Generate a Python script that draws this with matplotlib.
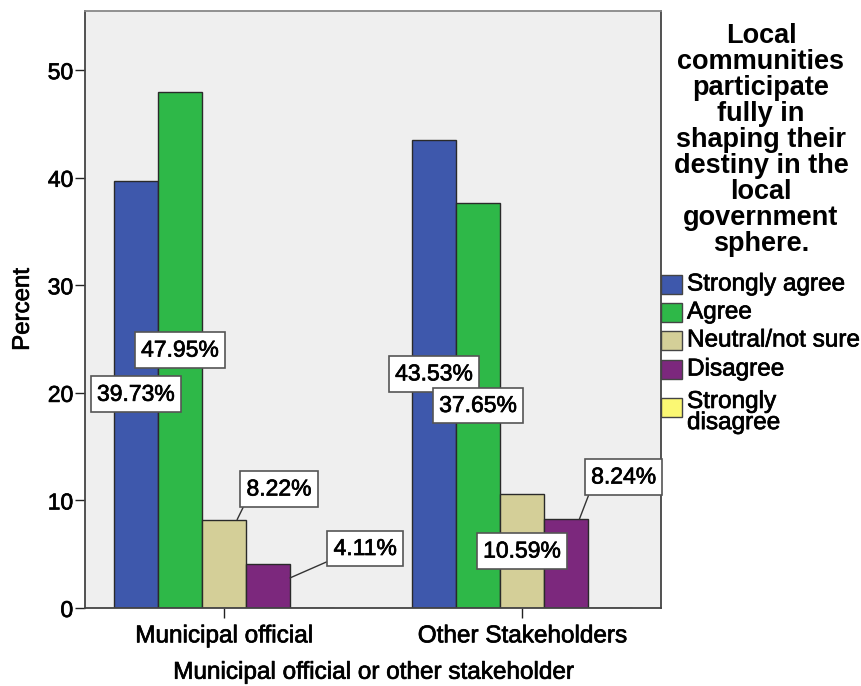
import matplotlib
matplotlib.use("Agg")
import matplotlib.pyplot as plt
from matplotlib.patches import Rectangle
import matplotlib.patheffects as pe
import numpy as np

plt.rcParams['font.family'] = ['Liberation Sans', 'DejaVu Sans']

# Data
groups = ["Municipal official", "Other Stakeholders"]
responses = ["Strongly agree", "Agree", "Neutral/not sure", "Disagree", "Strongly\ndisagree"]
strongly_agree = [39.73, 43.53]
agree = [47.95, 37.65]
neutral = [8.22, 10.59]
disagree = [4.11, 8.24]
strongly_disagree = [0.0, 0.0]
yticks = [0, 10, 20, 30, 40, 50]

series = [strongly_agree, agree, neutral, disagree, strongly_disagree]
colors = ["#3E58AC", "#2EB848", "#D4CF98", "#7C287D", "#FBF873"]

heavy = [pe.withStroke(linewidth=0.5, foreground="black")]

fig = plt.figure(figsize=(8.62, 6.86), dpi=100)
ax = fig.add_axes([85 / 862, 1 - 608 / 686, 576 / 862, 597 / 686])
ax.set_facecolor("#EFEFEF")

x = np.arange(len(groups))
w = 0.1477
for i, (vals, col) in enumerate(zip(series, colors)):
    ax.bar(x + (i - 2) * w, vals, width=w, color=col, edgecolor="#2a2a2a",
           linewidth=1.0, label=responses[i], zorder=2)

ax.set_xlim(-0.466, 1.466)
ax.set_ylim(0, 55.5)
ax.set_yticks(yticks)
ax.set_xticks(x)
ax.set_xticklabels(groups)
ax.tick_params(axis="both", length=7.5, width=1.0, color="#222222")
ax.tick_params(axis="x", labelsize=17.5, pad=5)
ax.tick_params(axis="y", labelsize=16.5, pad=1)
for lab in ax.get_xticklabels() + ax.get_yticklabels():
    lab.set_path_effects(heavy)
for s in ax.spines.values():
    s.set_color("#444444")
    s.set_linewidth(1.3)
ax.spines["top"].set_color("#888888")

ax.set_ylabel("Percent", fontsize=17.3, labelpad=10, path_effects=heavy)
ax.set_xlabel("Municipal official or other stakeholder", fontsize=17.5, path_effects=heavy)
ax.xaxis.set_label_coords(0.5, -0.09)

# Value labels: inside labels sit at half bar height; small bars get a leader line
box = dict(boxstyle="square,pad=0.28", facecolor="white", edgecolor="#555555", linewidth=1.2)
outside = {
    (2, 0): dict(offset=(39.6, 22.0), anchor=(0.3, 1.0), relpos=(0.0, 0.0)),
    (3, 0): dict(offset=(70.0, 11.0), anchor=(0.5, 0.68), relpos=(0.0, 0.05)),
    (3, 1): dict(offset=(41.4, 30.5), anchor=(0.3, 1.0), relpos=(0.0, 0.0)),
}
for i, vals in enumerate(series):
    for g, v in enumerate(vals):
        if v <= 0:
            continue
        cx = x[g] + (i - 2) * w
        label = f"{v:.2f}%"
        if (i, g) in outside:
            o = outside[(i, g)]
            px = cx + o["anchor"][0] * w
            py = v * o["anchor"][1]
            top_off_pt = (v - py) / 55.5 * 597 * 0.72
            ax.annotate(label, xy=(px, py), xycoords="data",
                        xytext=(o["offset"][0] - o["anchor"][0] * w / 1.932 * 576 * 0.72,
                                o["offset"][1] + top_off_pt),
                        textcoords="offset points", ha="center", va="center",
                        fontsize=16.5, bbox=box, zorder=5, path_effects=heavy,
                        arrowprops=dict(arrowstyle="-", color="#333333", lw=1.0,
                                        relpos=o["relpos"], shrinkA=0, shrinkB=0))
        else:
            ax.text(cx, v / 2, label, ha="center", va="center", fontsize=16.5,
                    bbox=box, zorder=5, path_effects=heavy)

# Legend drawn on the figure, to the right of the plot
fig.text(761 / 862, 1 - 23 / 686,
         "Local\ncommunities\nparticipate\nfully in\nshaping their\ndestiny in the\nlocal\ngovernment\nsphere.",
         ha="center", va="top", fontsize=19.5, fontweight="bold", linespacing=1.0)
patch_tops = [275, 303, 331, 360, 398]
for top, lab, col in zip(patch_tops, responses, colors):
    fig.patches.append(Rectangle((661 / 862, 1 - (top + 19) / 686), 21 / 862, 19 / 686,
                                 transform=fig.transFigure, facecolor=col,
                                 edgecolor="#444444", linewidth=1.0))
    cy = top + 9.5 + (5 if "\n" in lab else 0)
    fig.text(687 / 862, 1 - cy / 686, lab, ha="left", va="center", fontsize=17.5,
             linespacing=0.95, path_effects=heavy)

fig.savefig("out.png", dpi=100)
